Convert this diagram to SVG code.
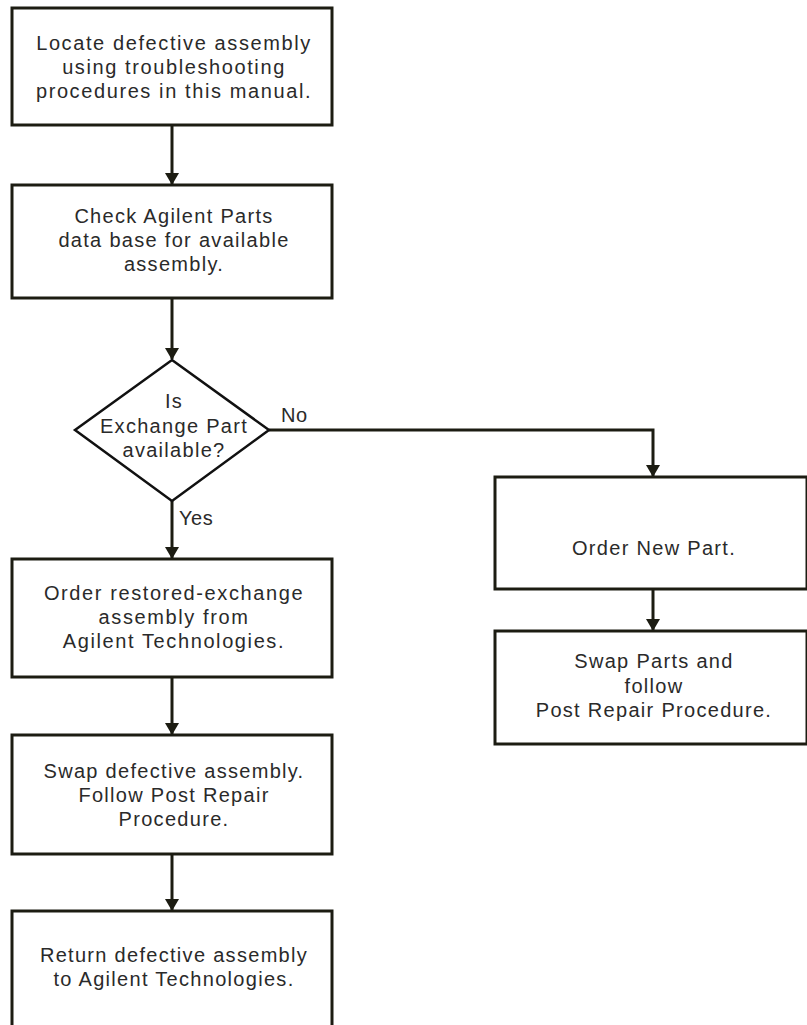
<svg xmlns="http://www.w3.org/2000/svg" width="807" height="1025" viewBox="0 0 807 1025">
<style>
.box{fill:#fff;stroke:#1c1c12;stroke-width:3}
.dia{fill:#fff;stroke:#111;stroke-width:2.5;stroke-linejoin:miter}
.t{font-family:"Liberation Sans",Arial,sans-serif;font-size:20px;fill:#2a2a2a;text-anchor:middle;letter-spacing:1.3px}
.w{letter-spacing:1.6px}
.lbl{font-family:"Liberation Sans",Arial,sans-serif;font-size:20px;fill:#2a2a2a;letter-spacing:0.5px}
.c{fill:none;stroke:#1c1c12;stroke-width:3;marker-end:url(#ah)}
</style>
<defs>
<marker id="ah" markerUnits="userSpaceOnUse" markerWidth="12" markerHeight="14" refX="11" refY="7" orient="auto" viewBox="0 0 12 14">
<path d="M0,0 L12,7 L0,14 Z" fill="#1c1c12"/>
</marker>
</defs>
<rect width="807" height="1025" fill="#fff"/>
<g id="connectors">
<path class="c" d="M172,125 V184"/>
<path class="c" d="M172,298 V359"/>
<path class="c" d="M172,501 V558"/>
<path class="c" d="M172,677 V734"/>
<path class="c" d="M172,854 V910"/>
<path class="c" d="M269,430 H653 V476"/>
<path class="c" d="M653,589 V630"/>
</g>
<g id="n1">
<rect class="box" x="12" y="8" width="320" height="117"/>
<text class="t w" x="174" y="50">Locate defective assembly</text>
<text class="t w" x="174" y="74">using troubleshooting</text>
<text class="t w" x="174" y="98">procedures in this manual.</text>
</g>
<g id="n2">
<rect class="box" x="12" y="185" width="320" height="113"/>
<text class="t" x="174" y="223">Check Agilent Parts</text>
<text class="t" x="174" y="247">data base for available</text>
<text class="t" x="174" y="271">assembly.</text>
</g>
<g id="n3">
<polygon class="dia" points="172,360 269,430 172,501 75,430"/>
<text class="t" x="174" y="408">Is</text>
<text class="t" x="174" y="433">Exchange Part</text>
<text class="t" x="174" y="457">available?</text>
</g>
<text id="lblNo" class="lbl" x="281" y="422">No</text>
<text id="lblYes" class="lbl" x="179" y="525">Yes</text>
<g id="n4">
<rect class="box" x="12" y="559" width="320" height="118"/>
<text class="t w" x="174" y="600">Order restored-exchange</text>
<text class="t w" x="174" y="624">assembly from</text>
<text class="t w" x="174" y="648">Agilent Technologies.</text>
</g>
<g id="n5">
<rect class="box" x="12" y="735" width="320" height="119"/>
<text class="t" x="174" y="778">Swap defective assembly.</text>
<text class="t" x="174" y="802">Follow Post Repair</text>
<text class="t" x="174" y="826">Procedure.</text>
</g>
<g id="n6">
<rect class="box" x="12" y="911" width="320" height="130"/>
<text class="t" x="174" y="962">Return defective assembly</text>
<text class="t" x="174" y="986">to Agilent Technologies.</text>
</g>
<g id="n7">
<rect class="box" x="495" y="477" width="312" height="112"/>
<text class="t" x="654" y="555">Order New Part.</text>
</g>
<g id="n8">
<rect class="box" x="495" y="631" width="312" height="113"/>
<text class="t" x="654" y="668">Swap Parts and</text>
<text class="t" x="654" y="693">follow</text>
<text class="t" x="654" y="717">Post Repair Procedure.</text>
</g>
</svg>
